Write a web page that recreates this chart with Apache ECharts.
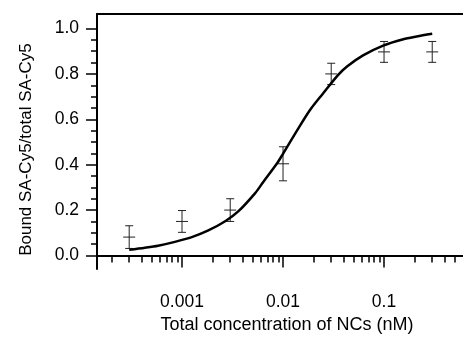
<!DOCTYPE html>
<html>
<head>
<meta charset="utf-8">
<script src="https://cdn.jsdelivr.net/npm/echarts@6/dist/echarts.min.js"></script>
<style>
  html, body { margin: 0; padding: 0; background: #fff; }
  #main { width: 463px; height: 339px; }
</style>
</head>
<body>
<div id="main"></div>
<script>
// measured points (concentration in nM, bound fraction, error)
const concentrations = [0.0003, 0.001, 0.003, 0.01, 0.03, 0.1, 0.3];
const boundFraction = [0.081, 0.15, 0.20, 0.404, 0.80, 0.897, 0.897];
const errors = [0.05, 0.048, 0.05, 0.075, 0.047, 0.046, 0.046];

// fitted curve
const fitX = [0.0003, 0.00043, 0.00058, 0.00085, 0.00125, 0.0018, 0.0027, 0.0036, 0.0053, 0.0064,
  0.0087, 0.01, 0.0137, 0.0185, 0.025, 0.035, 0.043, 0.062, 0.098, 0.155, 0.21, 0.3];
const fitY = [0.025, 0.034, 0.043, 0.060, 0.081, 0.109, 0.152, 0.194, 0.275, 0.325,
  0.405, 0.448, 0.549, 0.641, 0.715, 0.795, 0.833, 0.882, 0.925, 0.953, 0.965, 0.977];

// ticks
const xMajorTicks = [0.001, 0.01, 0.1];
const xMinorTicks = [0.0002, 0.0003, 0.0004, 0.0005, 0.0006, 0.0007, 0.0008, 0.0009,
  0.002, 0.003, 0.004, 0.005, 0.006, 0.007, 0.008, 0.009,
  0.02, 0.03, 0.04, 0.05, 0.06, 0.07, 0.08, 0.09,
  0.2, 0.3, 0.4, 0.5];
const yMajorTicks = [0, 0.2, 0.4, 0.6, 0.8, 1.0];
const yMinorTicks = [0.05, 0.1, 0.15, 0.25, 0.3, 0.35, 0.45, 0.5, 0.55,
  0.65, 0.7, 0.75, 0.85, 0.9, 0.95];

const X_MIN = 0.000144, X_MAX = 0.605;
const Y_MIN = -0.06, Y_MAX = 1.064;
const font = 'Liberation Sans, Arial, sans-serif';

const myChart = echarts.init(document.getElementById('main'));

const errData = concentrations.map((c, i) => [c, boundFraction[i], errors[i]]);
const fitData = fitX.map((x, i) => [x, fitY[i]]);

myChart.setOption({
  animation: false,
  grid: { left: 97, top: 14, right: 0, bottom: 61 },
  xAxis: [
    {
      type: 'log', logBase: 10, min: X_MIN, max: X_MAX, position: 'bottom',
      name: 'Total concentration of NCs (nM)', nameLocation: 'middle', nameGap: 42,
      nameTextStyle: { fontFamily: font, fontSize: 18, color: '#000', padding: [0, 0, 0, 14] },
      axisLine: { lineStyle: { color: '#000', width: 2 } },
      axisTick: { show: true, customValues: xMajorTicks, length: 12, lineStyle: { color: '#000', width: 1.5 } },
      axisLabel: { customValues: xMajorTicks, margin: 24, fontFamily: font, fontSize: 17.5, color: '#000',
        formatter: v => String(+v.toPrecision(3)) },
      splitLine: { show: false }
    },
    {
      type: 'log', logBase: 10, min: X_MIN, max: X_MAX, position: 'bottom',
      axisLine: { show: false },
      axisTick: { show: true, customValues: xMinorTicks, length: 7, lineStyle: { color: '#000', width: 1.5 } },
      axisLabel: { show: false },
      splitLine: { show: false }
    },
    {
      type: 'value', min: 0, max: 1, position: 'top',
      axisLine: { show: true, lineStyle: { color: '#000', width: 2 } },
      axisTick: { show: false }, axisLabel: { show: false }, splitLine: { show: false }
    }
  ],
  yAxis: [
    {
      type: 'value', min: Y_MIN, max: Y_MAX, position: 'left',
      name: 'Bound SA-Cy5/total SA-Cy5', nameLocation: 'middle', nameGap: 62,
      nameTextStyle: { fontFamily: font, fontSize: 17, color: '#000', padding: [0, 0, 0, -16] },
      axisLine: { show: true, lineStyle: { color: '#000', width: 2 } },
      axisTick: { show: true, customValues: yMajorTicks, length: 11, lineStyle: { color: '#000', width: 1.5 } },
      axisLabel: { customValues: yMajorTicks, margin: 18, fontFamily: font, fontSize: 17.5, color: '#000',
        formatter: v => v.toFixed(1) },
      splitLine: { show: false }
    },
    {
      type: 'value', min: Y_MIN, max: Y_MAX, position: 'left',
      axisLine: { show: false },
      axisTick: { show: true, customValues: yMinorTicks, length: 6, lineStyle: { color: '#000', width: 1.5 } },
      axisLabel: { show: false },
      splitLine: { show: false }
    }
  ],
  series: [
    {
      type: 'line',
      xAxisIndex: 0, yAxisIndex: 0,
      data: fitData,
      smooth: 0.3,
      symbol: 'none',
      lineStyle: { color: '#000', width: 2.5 }
    },
    {
      type: 'custom',
      xAxisIndex: 0, yAxisIndex: 0,
      data: errData,
      renderItem: function (params, api) {
        const x = api.value(0), y = api.value(1), e = api.value(2);
        const c = api.coord([x, y]);
        const top = api.coord([x, y + e]);
        const bot = api.coord([x, y - e]);
        const st = { stroke: '#222', lineWidth: 1 };
        return {
          type: 'group',
          children: [
            { type: 'line', shape: { x1: c[0], y1: top[1], x2: c[0], y2: bot[1] }, style: st },
            { type: 'line', shape: { x1: c[0] - 4, y1: top[1], x2: c[0] + 4, y2: top[1] }, style: st },
            { type: 'line', shape: { x1: c[0] - 4, y1: bot[1], x2: c[0] + 4, y2: bot[1] }, style: st },
            { type: 'line', shape: { x1: c[0] - 6, y1: c[1], x2: c[0] + 6, y2: c[1] }, style: st }
          ]
        };
      }
    }
  ]
});
</script>
</body>
</html>
